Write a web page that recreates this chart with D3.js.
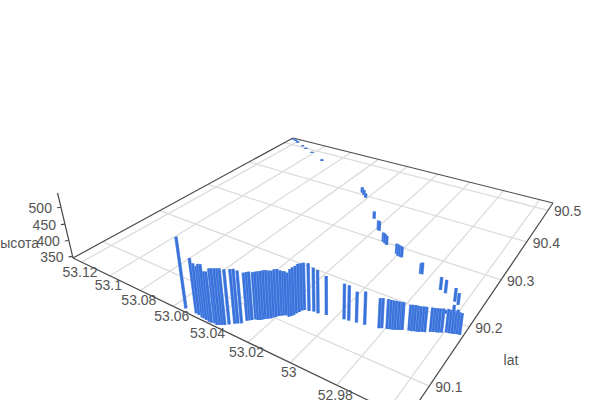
<!DOCTYPE html><html><head><meta charset="utf-8"><script src="https://cdn.jsdelivr.net/npm/d3@7"></script>
<style>html,body{margin:0;background:#fff;overflow:hidden}text{font-family:"Liberation Sans",Arial,sans-serif;font-size:14px;fill:#555}</style></head><body><svg id="c" width="600" height="400"></svg><script>
const lonGrid=[53.12,53.1,53.08,53.06,53.04,53.02,53,52.98,52.96];
const lonTicks=[53.12,53.1,53.08,53.06,53.04,53.02,53,52.98];
const lonLabels=["53.12","53.1","53.08","53.06","53.04","53.02","53","52.98"];
const latTicks=[90.1,90.2,90.3,90.4,90.5];
const latLabels=["90.1","90.2","90.3","90.4","90.5"];
const altTicks=[350,400,450,500];
const lonVals=[53.0547,53.0488,53.0471,53.0450,53.0439,53.0424,53.0408,53.0396,53.0382,53.0368,53.0359,53.0350,53.0342,53.0330,53.0314,53.0305,53.0293,53.0285,53.0277,53.0271,53.0261,53.0251,53.0242,53.0236,53.0229,53.0221,53.0213,53.0208,53.0202,53.0195,53.0187,53.0180,53.0173,53.0159,53.0153,
53.0149,53.0146,53.0142,53.0138,53.0131,53.0112,53.0093,53.0073,53.0039,52.9965,52.9945,52.9913,52.9879,52.9822,52.9813,52.9794,52.9784,52.9774,52.9765,52.9756,52.9748,52.9742,52.9718,52.9708,52.9700,52.9690,52.9681,52.9672,52.9663,52.9645,52.9636,52.9627,52.9618,52.9608,52.9592,
52.9582,52.9572,52.9563,52.9554,52.9544,52.9844,52.9640,52.9620,52.9618,52.9599,52.9640,
53.1244,53.1216,53.1188,53.1123,53.1079,53.1009,53.0886,53.0457,53.0435,53.0411,53.0258,53.0185,53.0178,53.0112,53.0098,53.0084,53.0008,52.9994,52.9984,52.9975,52.9838,52.9722,52.9695];
const latVals=[90.0592,90.0593,90.0588,90.0577,90.0577,90.0570,90.0565,90.0566,90.0578,90.0571,90.0587,90.0602,90.0616,90.0649,90.0691,90.0712,90.0734,90.0801,90.0821,90.0839,90.0869,90.0874,90.0890,90.0912,90.0932,90.0952,90.0973,90.1002,90.1026,90.1051,90.1071,90.1092,90.1104,90.1101,90.1124,
90.1152,90.1191,90.1225,90.1260,90.1285,90.1299,90.1318,90.1320,90.1345,90.1388,90.1397,90.1413,90.1429,90.1464,90.1480,90.1501,90.1511,90.1522,90.1532,90.1548,90.1563,90.1572,90.1603,90.1607,90.1622,90.1632,90.1643,90.1658,90.1668,90.1705,90.1720,90.1730,90.1741,90.1758,90.1786,
90.1791,90.1802,90.1812,90.1822,90.1827,90.2599,90.2321,90.2285,90.2150,90.2149,90.2070,
90.5198,90.5169,90.5125,90.5035,90.4968,90.4880,90.4693,90.4054,90.4002,90.3941,90.3462,90.3223,90.3215,90.2999,90.2975,90.2951,90.2832,90.2803,90.2800,90.2798,90.2602,90.2435,90.2407];
const altVals=[542,498,488,487,495,498,483,485,495,499,499,499,499,495,494,494,489,477,478,478,475,478,479,478,479,479,477,474,476,475,471,468,467,467,475,
477,477,479,477,477,478,468,466,454,444,443,431,437,428,428,427,426,425,425,423,422,421,416,418,417,416,415,415,415,412,411,411,411,411,410,
409,409,408,406,405,377,384,379,364,355,355,
349,351,351,350,350,350,352,364,363,360,369,376,375,374,375,374,377,380,379,378,380,383,384];
const sLon=d3.scaleLinear().domain([53.1263,52.953]).range([0,1]);
const tLat=d3.scaleLinear().domain([90.054,90.526]).range([0,1]);
const nAlt=d3.scaleLinear().domain([345,541]).range([0,-0.05667]);
const H=[209.08,353.89,73,32.4,-56.94,258,-0.30693,0.45697,1],V=[330,1340];
function P(lon,lat,alt){const s=sLon(lon),t=tLat(lat),k=nAlt(alt);
 const W=H[6]*s+H[7]*t+H[8]+k;
 return [(H[0]*s+H[1]*t+H[2]+k*V[0])/W,(H[3]*s+H[4]*t+H[5]+k*V[1])/W];}
const svg=d3.select("#c");
const lonD=sLon.domain(),latD=tLat.domain(),zB=345,zT=541;
const line=d3.line();
const grid=svg.append("g").attr("fill","none").attr("stroke","#dcdcdc").attr("stroke-width",1.3);
lonGrid.forEach(v=>grid.append("path").attr("d",line([P(v,latD[0],zB),P(v,latD[1],zB)])));
latTicks.forEach(v=>grid.append("path").attr("d",line([P(lonD[0],v,zB),P(lonD[1],v,zB)])));
const ax=svg.append("g").attr("fill","none").attr("stroke","#4a4a4a").attr("stroke-width",1.2);
[[P(lonD[0],latD[0],zB),P(lonD[0],latD[1],zB)],[P(lonD[0],latD[1],zB),P(lonD[1],latD[1],zB)],[P(lonD[0],latD[0],zB),P(lonD[1],latD[0],zB)],[P(lonD[1],latD[0],zB),P(lonD[1],latD[1],zB)],[P(lonD[0],latD[0],zB),P(lonD[0],latD[0],zT)]].forEach(p=>ax.append("path").attr("d",line(p)));
altTicks.forEach(v=>{const p=P(lonD[0],latD[0],v);ax.append("path").attr("d",line([[p[0]-4,p[1]+0.5],p]));
 svg.append("text").attr("x",p[0]-9).attr("y",p[1]+5.5).attr("text-anchor","end").text(v);});
lonTicks.forEach((v,i)=>{const p=P(v,latD[0],zB);svg.append("text").attr("x",p[0]-1.5).attr("y",p[1]+14.5).attr("text-anchor","middle").text(lonLabels[i]);});
latTicks.forEach((v,i)=>{const p=P(lonD[1],v,zB);svg.append("text").attr("x",p[0]+6).attr("y",p[1]+6).text(latLabels[i]);});
svg.append("text").attr("x",39).attr("y",248).attr("text-anchor","end").text("высота");
svg.append("text").attr("x",511).attr("y",365).attr("text-anchor","middle").text("lat");
const idx=d3.range(lonVals.length);
const g=svg.append("g").attr("fill","none").selectAll("g").data(idx).join("g");
const d=i=>line([P(lonVals[i],latVals[i],zB),P(lonVals[i],latVals[i],altVals[i])]);
g.append("path").attr("stroke","#6f9cec").attr("stroke-opacity",0.9).attr("stroke-width",3.5).attr("d",d);
g.append("path").attr("stroke","#3a72da").attr("stroke-width",2.5).attr("d",d);
</script></body></html>
